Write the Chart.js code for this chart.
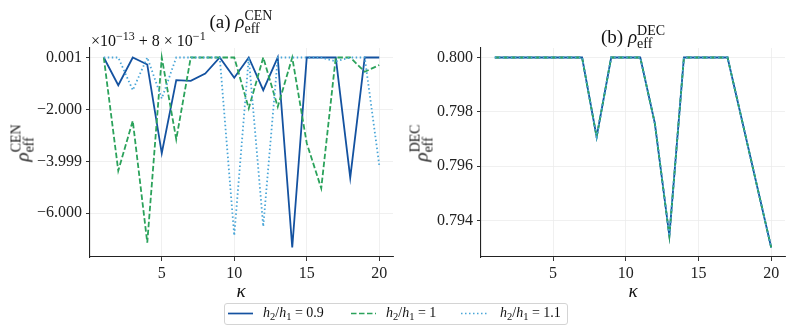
<!DOCTYPE html>
<html>
<head>
<meta charset="utf-8">
<script src="https://cdn.jsdelivr.net/npm/chart.js@4.4.1/dist/chart.umd.min.js"></script>
<style>
body{margin:0;background:#fff}
#fig{position:relative;width:793px;height:334px;font-family:'Liberation Serif',serif;color:#111;overflow:hidden}
.pane{position:absolute;top:0;height:300px}
.t{position:absolute;white-space:nowrap;line-height:1}
.st{display:inline-block;position:relative;font-size:14px;line-height:1}
.st .up{position:relative;top:-8px}
.st .dn{position:absolute;left:0;top:5px}
sup{font-size:12px;line-height:0;vertical-align:6px}
sub{font-size:10.5px;line-height:0;vertical-align:-3px}
#legend{position:absolute;left:224px;top:303px;width:344px;height:22px;box-sizing:border-box;border:1px solid #d4d4d4;border-radius:3px;background:#fff}
</style>
</head>
<body>
<div id="fig">
  <div class="pane" style="left:0;width:400px"><canvas id="cen" width="400" height="300"></canvas></div>
  <div class="pane" style="left:400px;width:393px"><canvas id="dec" width="393" height="300"></canvas></div>

  <div class="t" style="left:241px;top:12px;font-size:19px;transform:translateX(-50%)">(a)&nbsp;<i>ρ</i><span class="st"><span class="up">CEN</span><span class="dn">eff</span></span></div>
  <div class="t" style="left:633px;top:27px;font-size:19px;transform:translateX(-50%)">(b)&nbsp;<i>ρ</i><span class="st"><span class="up">DEC</span><span class="dn">eff</span></span></div>

  <div class="t" style="left:91px;top:33px;font-size:16px">×10<sup>−13</sup> + 8 × 10<sup>−1</sup></div>

  <div class="t" style="left:22px;top:143px;font-size:19px;transform:translate(-50%,-50%) rotate(-90deg)"><i>ρ</i><span class="st"><span class="up">CEN</span><span class="dn">eff</span></span></div>
  <div class="t" style="left:421px;top:143px;font-size:19px;transform:translate(-50%,-50%) rotate(-90deg)"><i>ρ</i><span class="st"><span class="up">DEC</span><span class="dn">eff</span></span></div>

  <div class="t" style="left:241px;top:281px;font-size:19px;transform:translateX(-50%)"><i>κ</i></div>
  <div class="t" style="left:633px;top:281px;font-size:19px;transform:translateX(-50%)"><i>κ</i></div>

  <div id="legend"></div>
  <svg style="position:absolute;left:0;top:0" width="793" height="334">
    <line x1="228" y1="313.5" x2="253" y2="313.5" stroke="#1452a0" stroke-width="1.7"/>
    <line x1="351" y1="313.5" x2="376" y2="313.5" stroke="#2ba25b" stroke-width="1.7" stroke-dasharray="5.5 2.5"/>
    <line x1="461" y1="313.5" x2="489" y2="313.5" stroke="#4aa6d8" stroke-width="1.7" stroke-dasharray="1.5 2.5"/>
  </svg>
  <div class="t" style="left:263px;top:306px;font-size:14px"><i>h</i><sub>2</sub>/<i>h</i><sub>1</sub> = 0.9</div>
  <div class="t" style="left:386px;top:306px;font-size:14px"><i>h</i><sub>2</sub>/<i>h</i><sub>1</sub> = 1</div>
  <div class="t" style="left:500px;top:306px;font-size:14px"><i>h</i><sub>2</sub>/<i>h</i><sub>1</sub> = 1.1</div>
</div>

<script>
// kappa values on the x axis
const kappa = [1, 2, 3, 4, 5, 6, 7, 8, 9, 10, 11, 12, 13, 14, 15, 16, 17, 18, 19, 20]
const xTicks = [5, 10, 15, 20]

// (a) rho_eff^CEN, given as offset from 0.8 in units of 1e-13
const cenH09 = [0, -1.07, 0, -0.27, -3.69, -0.87, -0.90, -0.62, 0, -0.78, 0, -1.26, 0, -7.32, 0, 0, 0, -4.63, 0, 0]
const cenH10 = [0, -4.36, -2.44, -7.13, 0, -3.15, 0, 0, 0, 0, -1.96, 0, -1.90, 0, -3.30, -5.04, 0, 0, -0.55, -0.29]
const cenH11 = [0, 0, -1.26, 0, -1.58, 0, 0, 0, 0, -6.86, 0, -6.51, 0, 0, 0, 0, -0.15, 0, 0, -4.14]
const cenTicks = [0.001, -2.000, -3.999, -6.000]

// (b) rho_eff^DEC
const decH09 = [0.8, 0.8, 0.8, 0.8, 0.8, 0.8, 0.8, 0.79707, 0.8, 0.8, 0.8, 0.79758, 0.79343, 0.8, 0.8, 0.8, 0.8, 0.79767, 0.79533, 0.7930]
const decH10 = [0.8, 0.8, 0.8, 0.8, 0.8, 0.8, 0.8, 0.79707, 0.8, 0.8, 0.8, 0.79758, 0.79343, 0.8, 0.8, 0.8, 0.8, 0.79767, 0.79533, 0.7930]
const decH11 = [0.8, 0.8, 0.8, 0.8, 0.8, 0.8, 0.8, 0.79707, 0.8, 0.8, 0.8, 0.79758, 0.79343, 0.8, 0.8, 0.8, 0.8, 0.79767, 0.79533, 0.7930]
const decTicks = [0.800, 0.798, 0.796, 0.794]

const seriesNames = ['h2/h1 = 0.9', 'h2/h1 = 1', 'h2/h1 = 1.1']
const colors = ['#1452a0', '#2ba25b', '#4aa6d8']
const dashes = [[], [5.5, 2.5], [1.5, 2.5]]

const tickFont = {family: 'Liberation Serif', size: 16}

function datasets(seriesList) {
    return seriesList.map((vals, i) => ({
        label: seriesNames[i],
        data: kappa.map((k, j) => ({x: k, y: vals[j]})),
        borderColor: colors[i],
        borderDash: dashes[i],
        borderWidth: 1.8,
        pointRadius: 0,
        tension: 0,
        fill: false,
        order: 3 - i,
    }))
}

function options(yMin, yMax, yTicks, yWidth, padRight) {
    return {
        responsive: false,
        animation: false,
        devicePixelRatio: 1,
        layout: {padding: {top: 48, right: padRight, left: 0, bottom: 0}},
        plugins: {legend: {display: false}, tooltip: {enabled: false}},
        scales: {
            x: {
                type: 'linear', min: 0.05, max: 20.95,
                afterBuildTicks: s => { s.ticks = xTicks.map(v => ({value: v})) },
                afterFit: s => { s.height = 43 },
                grid: {color: '#ececec', lineWidth: 0.8, tickColor: '#333', tickLength: 4, tickWidth: 1},
                border: {display: true, color: '#222', width: 1.1},
                ticks: {font: tickFont, color: '#222', padding: 3, maxRotation: 0, autoSkip: false},
            },
            y: {
                min: yMin, max: yMax,
                afterBuildTicks: s => { s.ticks = yTicks.map(v => ({value: v})) },
                afterFit: s => { s.width = yWidth },
                grid: {color: '#ececec', lineWidth: 0.8, tickColor: '#333', tickLength: 4, tickWidth: 1},
                border: {display: true, color: '#222', width: 1.1},
                ticks: {
                    font: tickFont, color: '#222', padding: 4, autoSkip: false,
                    callback: v => v.toFixed(3).replace('-', '\u2212'),
                },
            },
        },
    }
}

new Chart(document.getElementById('cen'), {
    type: 'line',
    data: {datasets: datasets([cenH09, cenH10, cenH11])},
    options: options(-7.686, 0.366, cenTicks, 90, 7),
})

new Chart(document.getElementById('dec'), {
    type: 'line',
    data: {datasets: datasets([decH09, decH10, decH11])},
    options: options(0.79265, 0.80035, decTicks, 81, 8),
})
</script>
</body>
</html>
